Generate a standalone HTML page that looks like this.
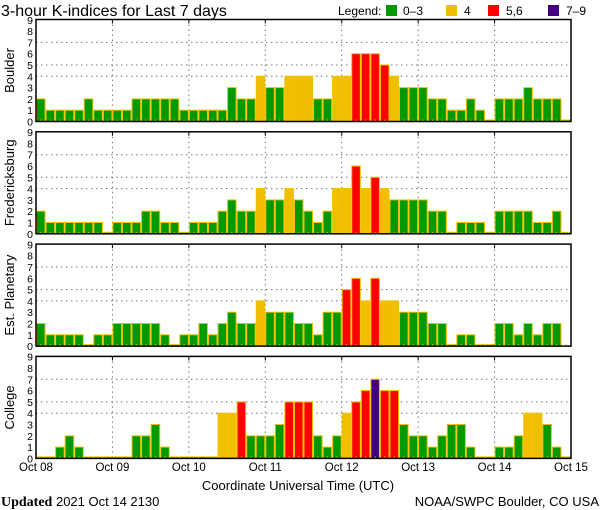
<!DOCTYPE html>
<html><head><meta charset="utf-8"><style>
html,body{margin:0;padding:0;background:#fff;}
svg{display:block;font-family:"Liberation Sans",sans-serif;}
</style></head><body>
<svg id="chart" width="600" height="510" viewBox="0 0 600 510" xmlns="http://www.w3.org/2000/svg">
<text x="1" y="16" font-size="16" fill="#000">3-hour K-indices for Last 7 days</text>
<g font-size="12">
<text x="338" y="15">Legend:</text>
<rect x="386" y="5" width="11" height="11" fill="#009900"/>
<text x="403" y="15">0–3</text>
<rect x="446" y="5" width="11" height="11" fill="#f0c000"/>
<text x="464" y="15">4</text>
<rect x="488" y="5" width="11" height="11" fill="#ff0000"/>
<text x="506" y="15">5,6</text>
<rect x="548" y="5" width="11" height="11" fill="#400080"/>
<text x="566" y="15">7–9</text>
</g>
<g id="panels"></g>
<text x="298" y="490" font-size="13" text-anchor="middle">Coordinate Universal Time (UTC)</text>
<text x="1" y="506" font-size="13"><tspan font-family="Liberation Serif" font-weight="bold" font-size="14">Updated</tspan> 2021 Oct 14 2130</text>
<text x="599" y="506" font-size="13" text-anchor="end">NOAA/SWPC Boulder, CO USA</text>
</svg>
<script>
const stations = ["Boulder","Fredericksburg","Est. Planetary","College"];
const dayLabels = ["Oct 08","Oct 09","Oct 10","Oct 11","Oct 12","Oct 13","Oct 14","Oct 15"];
const yTicks = [0,1,2,3,4,5,6,7,8,9];
const gridLevels = [4,5,7];
const boulder = [2,1,1,1,1,2,1,1, 1,1,2,2,2,2,2,1, 1,1,1,1,3,2,2,4, 3,3,4,4,4,2,2,4, 4,6,6,6,5,4,3,3, 3,2,2,1,1,2,1,0, 2,2,2,3,2,2,2,0];
const fredericksburg = [2,1,1,1,1,1,1,0, 1,1,1,2,2,1,1,0, 1,1,1,2,3,2,2,4, 3,3,4,3,2,1,2,4, 4,6,4,5,4,3,3,3, 3,2,2,0,1,1,1,0, 2,2,2,2,1,1,2,0];
const planetary = [2,1,1,1,1,0,1,1, 2,2,2,2,2,1,0,1, 1,2,1,2,3,2,2,4, 3,3,3,2,2,1,3,3, 5,6,4,6,4,4,3,3, 3,2,2,0,1,1,0,0, 2,2,1,2,1,2,2,null];
const college = [0,0,1,2,1,0,0,0, 0,0,2,2,3,1,0,0, 0,0,0,4,4,5,2,2, 2,3,5,5,5,2,1,2, 4,5,6,7,6,6,3,2, 2,1,2,3,3,1,0,0, 1,1,2,4,4,3,1,0];
const series = [boulder, fredericksburg, planetary, college];

const NS="http://www.w3.org/2000/svg";
const X0=36, X1=571, NB=56, UNIT=11.3, PH=102;
const bottoms=[121.5,233.8,346.1,458.4];
const xBar=i=>X0+(X1-X0)*i/NB;
const yVal=(p,v)=>bottoms[p]-v*UNIT;
const color=v=>v>=7?"#400080":v>=5?"#ff0000":v>=4?"#f0c000":"#009900";
const root=document.getElementById('panels');
function mk(tag,attrs,parent){const e=document.createElementNS(NS,tag);for(const k in attrs)e.setAttribute(k,attrs[k]);(parent||root).appendChild(e);return e;}

series.forEach((data,p)=>{
  const g=mk('g',{});
  
  
  const top=bottoms[p]-PH;
  // grid
  gridLevels.forEach(l=>{
    const ln=mk('line',{x1:X0,x2:X1,y1:yVal(p,l),y2:yVal(p,l),stroke:"#777","stroke-dasharray":"1.5 3.5","stroke-width":1},g);
    
    
  });
  for(let d=1;d<7;d++){
    const x=xBar(d*8);
    const ln=mk('line',{x1:x,x2:x,y1:top,y2:bottoms[p],stroke:"#777","stroke-dasharray":"1.5 3.5","stroke-width":1},g);
    
    
  }
  // bars
  data.forEach((v,i)=>{
    if(v===null||v===undefined)return;
    const h=Math.max(v*UNIT,1.5);
    const r=mk('rect',{x:xBar(i)+0.5,y:bottoms[p]-h,width:(X1-X0)/NB-1,height:h,fill:color(v),stroke:"#f0c000","stroke-width":1},g);
    
    
  });
  data.forEach((v,i)=>{
    const cx=xBar(i)+(X1-X0)/NB/2;
    const t=mk('line',{x1:cx,x2:cx,y1:bottoms[p]-2,y2:bottoms[p],stroke:"#f0c000","stroke-width":1},g);
    
    
  });
  // frame
  const fr=mk('rect',{x:X0,y:top,width:X1-X0,height:PH,fill:"none",stroke:"#000","stroke-width":1.5},g);
  
  
  for(let d=1;d<7;d++){
    const x=xBar(d*8);
    const tk=mk('line',{x1:x,x2:x,y1:top,y2:top+4,stroke:"#000","stroke-width":1},g);
    
    
  }
  yTicks.forEach(t=>{
    const tx=mk('text',{x:X0-3,y:yVal(p,t)+4,"font-size":10.5,"text-anchor":"end"},g);
    
    
    tx.textContent=t;
  });
  const cy=bottoms[p]-PH/2;
  const lab=mk('text',{x:14,y:cy,"font-size":13,"text-anchor":"middle",transform:`rotate(-90 14 ${cy})`},g);
  
  
  lab.textContent=stations[p];
});
dayLabels.forEach((d,i)=>{
  const t=mk('text',{x:xBar(i*8),y:471,"font-size":11.5,"text-anchor":"middle"});
  
  
  t.textContent=d;
});
</script>
</body></html>
